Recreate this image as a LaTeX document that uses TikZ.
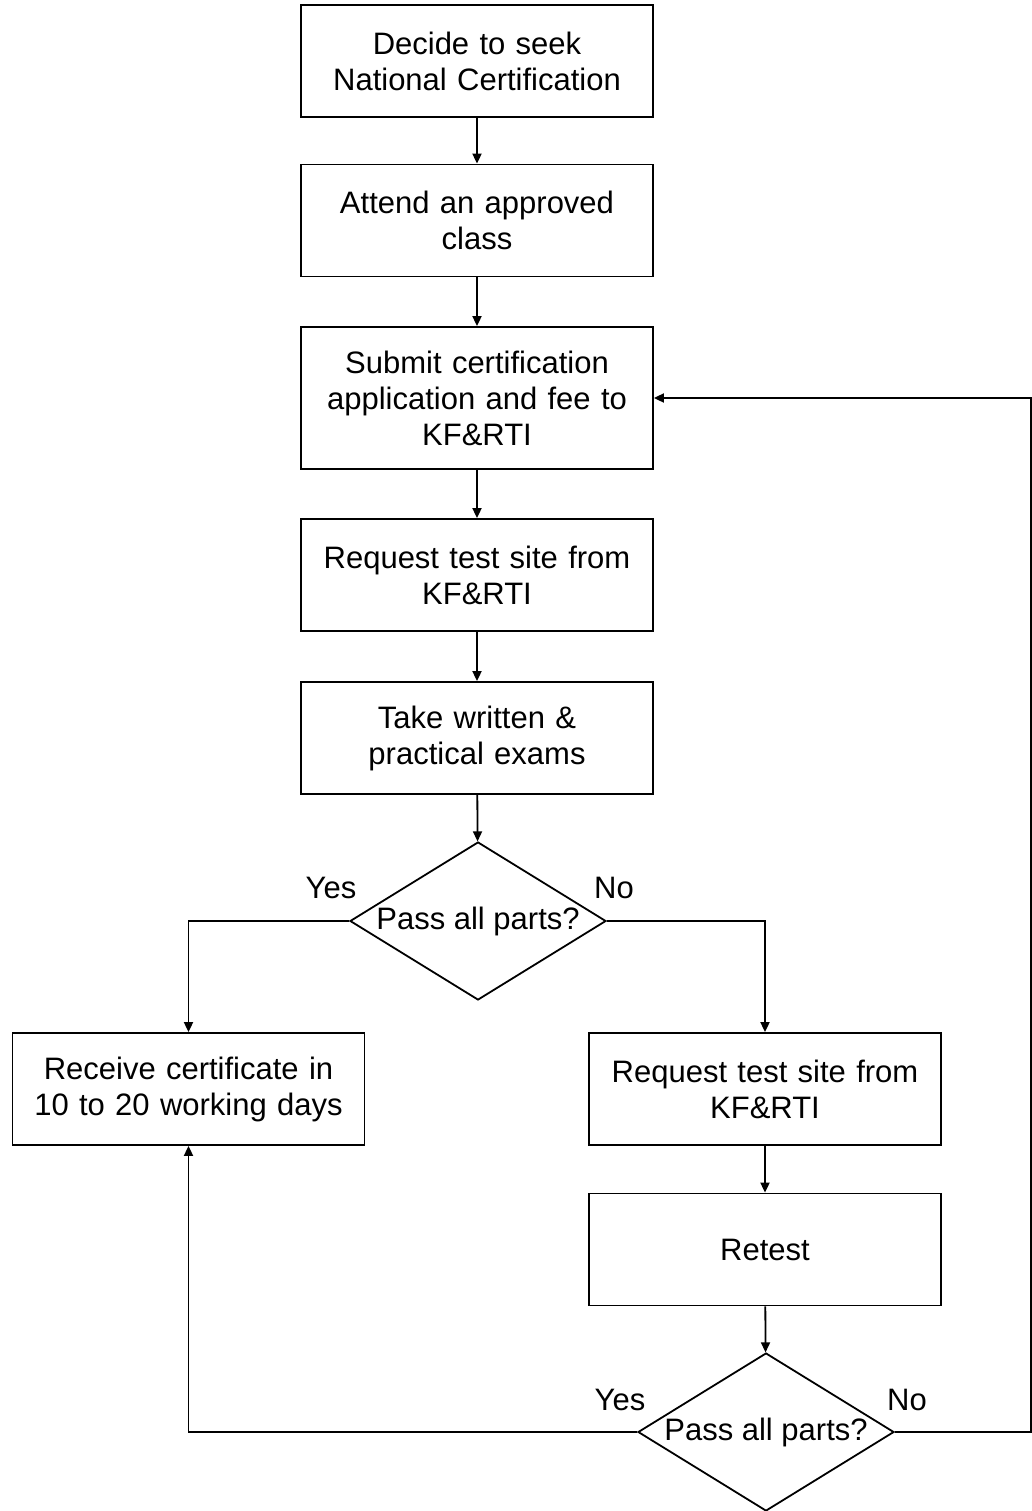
\documentclass[tikz,border=0pt]{standalone}
\usepackage{fontspec}
\setmainfont{Liberation Sans}
\usetikzlibrary{shapes.geometric,arrows.meta}
\tikzset{
  stepbox/.style={rectangle,draw,line width=1.8pt,minimum width=352pt,minimum height=112pt,text width=340pt,align=center,inner sep=0pt,font=\fontsize{31}{36}\selectfont},
  decision/.style={diamond,draw,line width=1.8pt,aspect=1.63,minimum width=256pt,minimum height=158pt,inner sep=0pt,font=\fontsize{31}{36}\selectfont},
  answer/.style={font=\fontsize{31}{36}\selectfont},
  flow/.style={line width=1.8pt,-{Triangle[length=10pt,width=9pt]}}
}
\begin{document}
\begin{tikzpicture}[x=1pt,y=-1pt]
\useasboundingbox (0,0) rectangle (1032,1511);
\node[stepbox] (decide) at (477,61) {Decide to seek\\National Certification};
\node[stepbox] (attend) at (477,220.5) {Attend an approved\\class};
\node[stepbox,minimum height=142pt] (submit) at (477,398) {Submit certification\\application and fee to\\KF\&RTI};
\node[stepbox] (site) at (477,575) {Request test site from\\KF\&RTI};
\node[stepbox] (exams) at (477,738) {Take written \&\\practical exams};
\node[decision] (pass) at (478,921) {Pass all parts?};
\node[answer] (yes) at (331,888) {Yes};
\node[answer] (no) at (614,888) {No};
\node[stepbox] (receive) at (188.5,1089) {Receive certificate in\\10 to 20 working days};
\node[stepbox] (resite) at (765,1089) {Request test site from\\KF\&RTI};
\node[stepbox] (retest) at (765,1249.5) {Retest};
\node[decision] (repass) at (766,1432) {Pass all parts?};
\node[answer] (reyes) at (620,1400) {Yes};
\node[answer] (reno) at (907,1400) {No};
\coordinate (loop) at (1031,1432);
% main column
\draw[flow] (decide) -- (attend);
\draw[flow] (attend) -- (submit);
\draw[flow] (submit) -- (site);
\draw[flow] (site) -- (exams);
\draw[flow] (exams) -- (pass);
% branches
\draw[flow] (pass.west) -| (receive.north);
\draw[flow] (pass.east) -| (resite.north);
\draw[flow] (resite) -- (retest);
\draw[flow] (retest) -- (repass);
\draw[flow] (repass.west) -| (receive.south);
\draw[flow] (repass.east) -- (loop) |- (submit.east);
\end{tikzpicture}
\end{document}
